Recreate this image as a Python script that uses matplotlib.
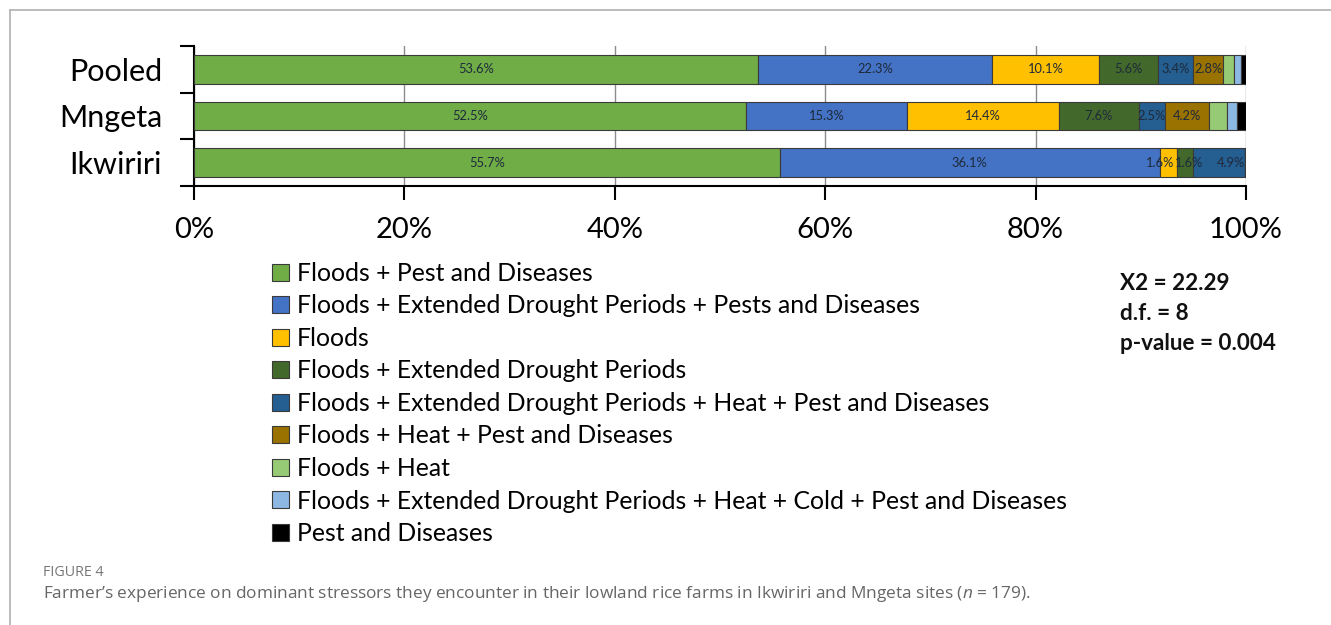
import matplotlib
matplotlib.use('Agg')
import matplotlib.pyplot as plt
import numpy as np

# sites, bottom to top as drawn
sites = ['Ikwiriri', 'Mngeta', 'Pooled']

stressors = ['Floods + Pest and Diseases',
             'Floods + Extended Drought Periods + Pests and Diseases',
             'Floods',
             'Floods + Extended Drought Periods',
             'Floods + Extended Drought Periods + Heat + Pest and Diseases',
             'Floods + Heat + Pest and Diseases',
             'Floods + Heat',
             'Floods + Extended Drought Periods + Heat + Cold + Pest and Diseases',
             'Pest and Diseases']

# percentages per stressor: [Ikwiriri, Mngeta, Pooled]
pct_floods_pest   = [55.7, 52.5, 53.6]
pct_floods_dr_pest = [36.1, 15.3, 22.3]
pct_floods        = [1.6, 14.4, 10.1]
pct_floods_dr     = [1.6, 7.6, 5.6]
pct_floods_dr_heat_pest = [4.9, 2.5, 3.4]
pct_floods_heat_pest = [0.0, 4.2, 2.8]
pct_floods_heat   = [0.0, 1.7, 1.1]
pct_floods_all    = [0.0, 0.9, 0.6]
pct_pest          = [0.0, 0.9, 0.6]

series = [pct_floods_pest, pct_floods_dr_pest, pct_floods, pct_floods_dr,
          pct_floods_dr_heat_pest, pct_floods_heat_pest, pct_floods_heat,
          pct_floods_all, pct_pest]

# which series get a value label
labelled = [True, True, True, True, True, True, False, False, False]
# small sideways nudge of labels on the narrow Ikwiriri segments (in % units)
nudge_ikw = [0, 0, -0.8, 0.4, 1.1, 0, 0, 0, 0]

colors = ['#70AD47', '#4472C4', '#FFC000', '#43682B', '#255E91',
          '#9A7200', '#96CA74', '#8DB8E3', '#000000']

xticks = [0, 20, 40, 60, 80, 100]
xticklabels = ['0%', '20%', '40%', '60%', '80%', '100%']

plt.rcParams['font.family'] = ['Lato', 'DejaVu Sans']
plt.rcParams['mathtext.fontset'] = 'custom'
plt.rcParams['mathtext.it'] = 'Open Sans:italic'

fig = plt.figure(figsize=(13.31, 6.25), dpi=100)
ax = fig.add_axes([194/1331, 1 - 186/625, 1052/1331, 140/625])

y = np.arange(len(sites))
left = np.zeros(len(sites))
handles = []
for k, (vals, col, lab, name) in enumerate(zip(series, colors, labelled, stressors)):
    vals = np.array(vals)
    h = ax.barh(y, vals, left=left, height=0.62, color=col,
                edgecolor='#3a3a3a', linewidth=0.8, label=name, zorder=3)
    handles.append(h)
    if lab:
        for yi, v, l0 in zip(y, vals, left):
            if v > 0:
                dx = nudge_ikw[k] if yi == 0 else 0
                ax.text(l0 + v / 2 + dx, yi, f'{v:.1f}%', ha='center', va='center',
                        fontsize=9.3, color='#1e2a3a', zorder=4)
    left += vals

ax.set_xlim(0, 100)
ax.set_ylim(-0.5, 2.5)
ax.set_xticks(xticks)
ax.set_xticklabels(xticklabels, fontsize=21)
ax.xaxis.grid(True, color='#8c8c8c', linewidth=1.0, zorder=0)
ax.set_yticks([-0.5, 0.5, 1.5, 2.5])
ax.set_yticklabels([])
ax.set_yticks(y, minor=True)
ax.set_yticklabels(sites, minor=True, fontsize=22)
ax.tick_params(axis='y', which='minor', length=0, pad=23)
ax.tick_params(axis='y', which='major', length=10, width=1.5, direction='out')
ax.tick_params(axis='x', length=10, width=1.5, direction='out', pad=12)
for s in ['top', 'right']:
    ax.spines[s].set_visible(False)
for s in ['left', 'bottom']:
    ax.spines[s].set_linewidth(1.5)

fig.legend(handles=handles, labels=stressors, loc='upper left',
           bbox_to_anchor=(262/1331, 1 - 252/625), frameon=False,
           fontsize=17.8, handlelength=0.68, handleheight=0.68,
           handletextpad=0.33, labelspacing=0.385, borderaxespad=0)

stats = ['X2 = 22.29', 'd.f. = 8', 'p-value = 0.004']
for i, s in enumerate(stats):
    fig.text(1120/1331, 1 - (284 + 30 * i)/625, s, fontsize=16.2,
             fontweight='bold', va='center', ha='left', color='#111111')

# frame lines of the figure panel
fig.add_artist(plt.Line2D([10/1331, 1], [1 - 10/625, 1 - 10/625],
                          color='#b0b0b0', linewidth=1.2))
fig.add_artist(plt.Line2D([10/1331, 10/1331], [0, 1 - 10/625],
                          color='#b0b0b0', linewidth=1.2))

fig.text(43/1331, 1 - 572/625, 'FIGURE 4', fontsize=10.3, color='#777777',
         family='Open Sans', va='center', ha='left')
fig.text(43/1331, 1 - 594/625,
         "Farmer’s experience on dominant stressors they encounter in their lowland rice farms in Ikwiriri and Mngeta sites ("
         + r'$\it{n}$' + " = 179).",
         fontsize=12.4, color='#666666', family='Open Sans', va='center', ha='left')

fig.savefig('out.png', dpi=100)
